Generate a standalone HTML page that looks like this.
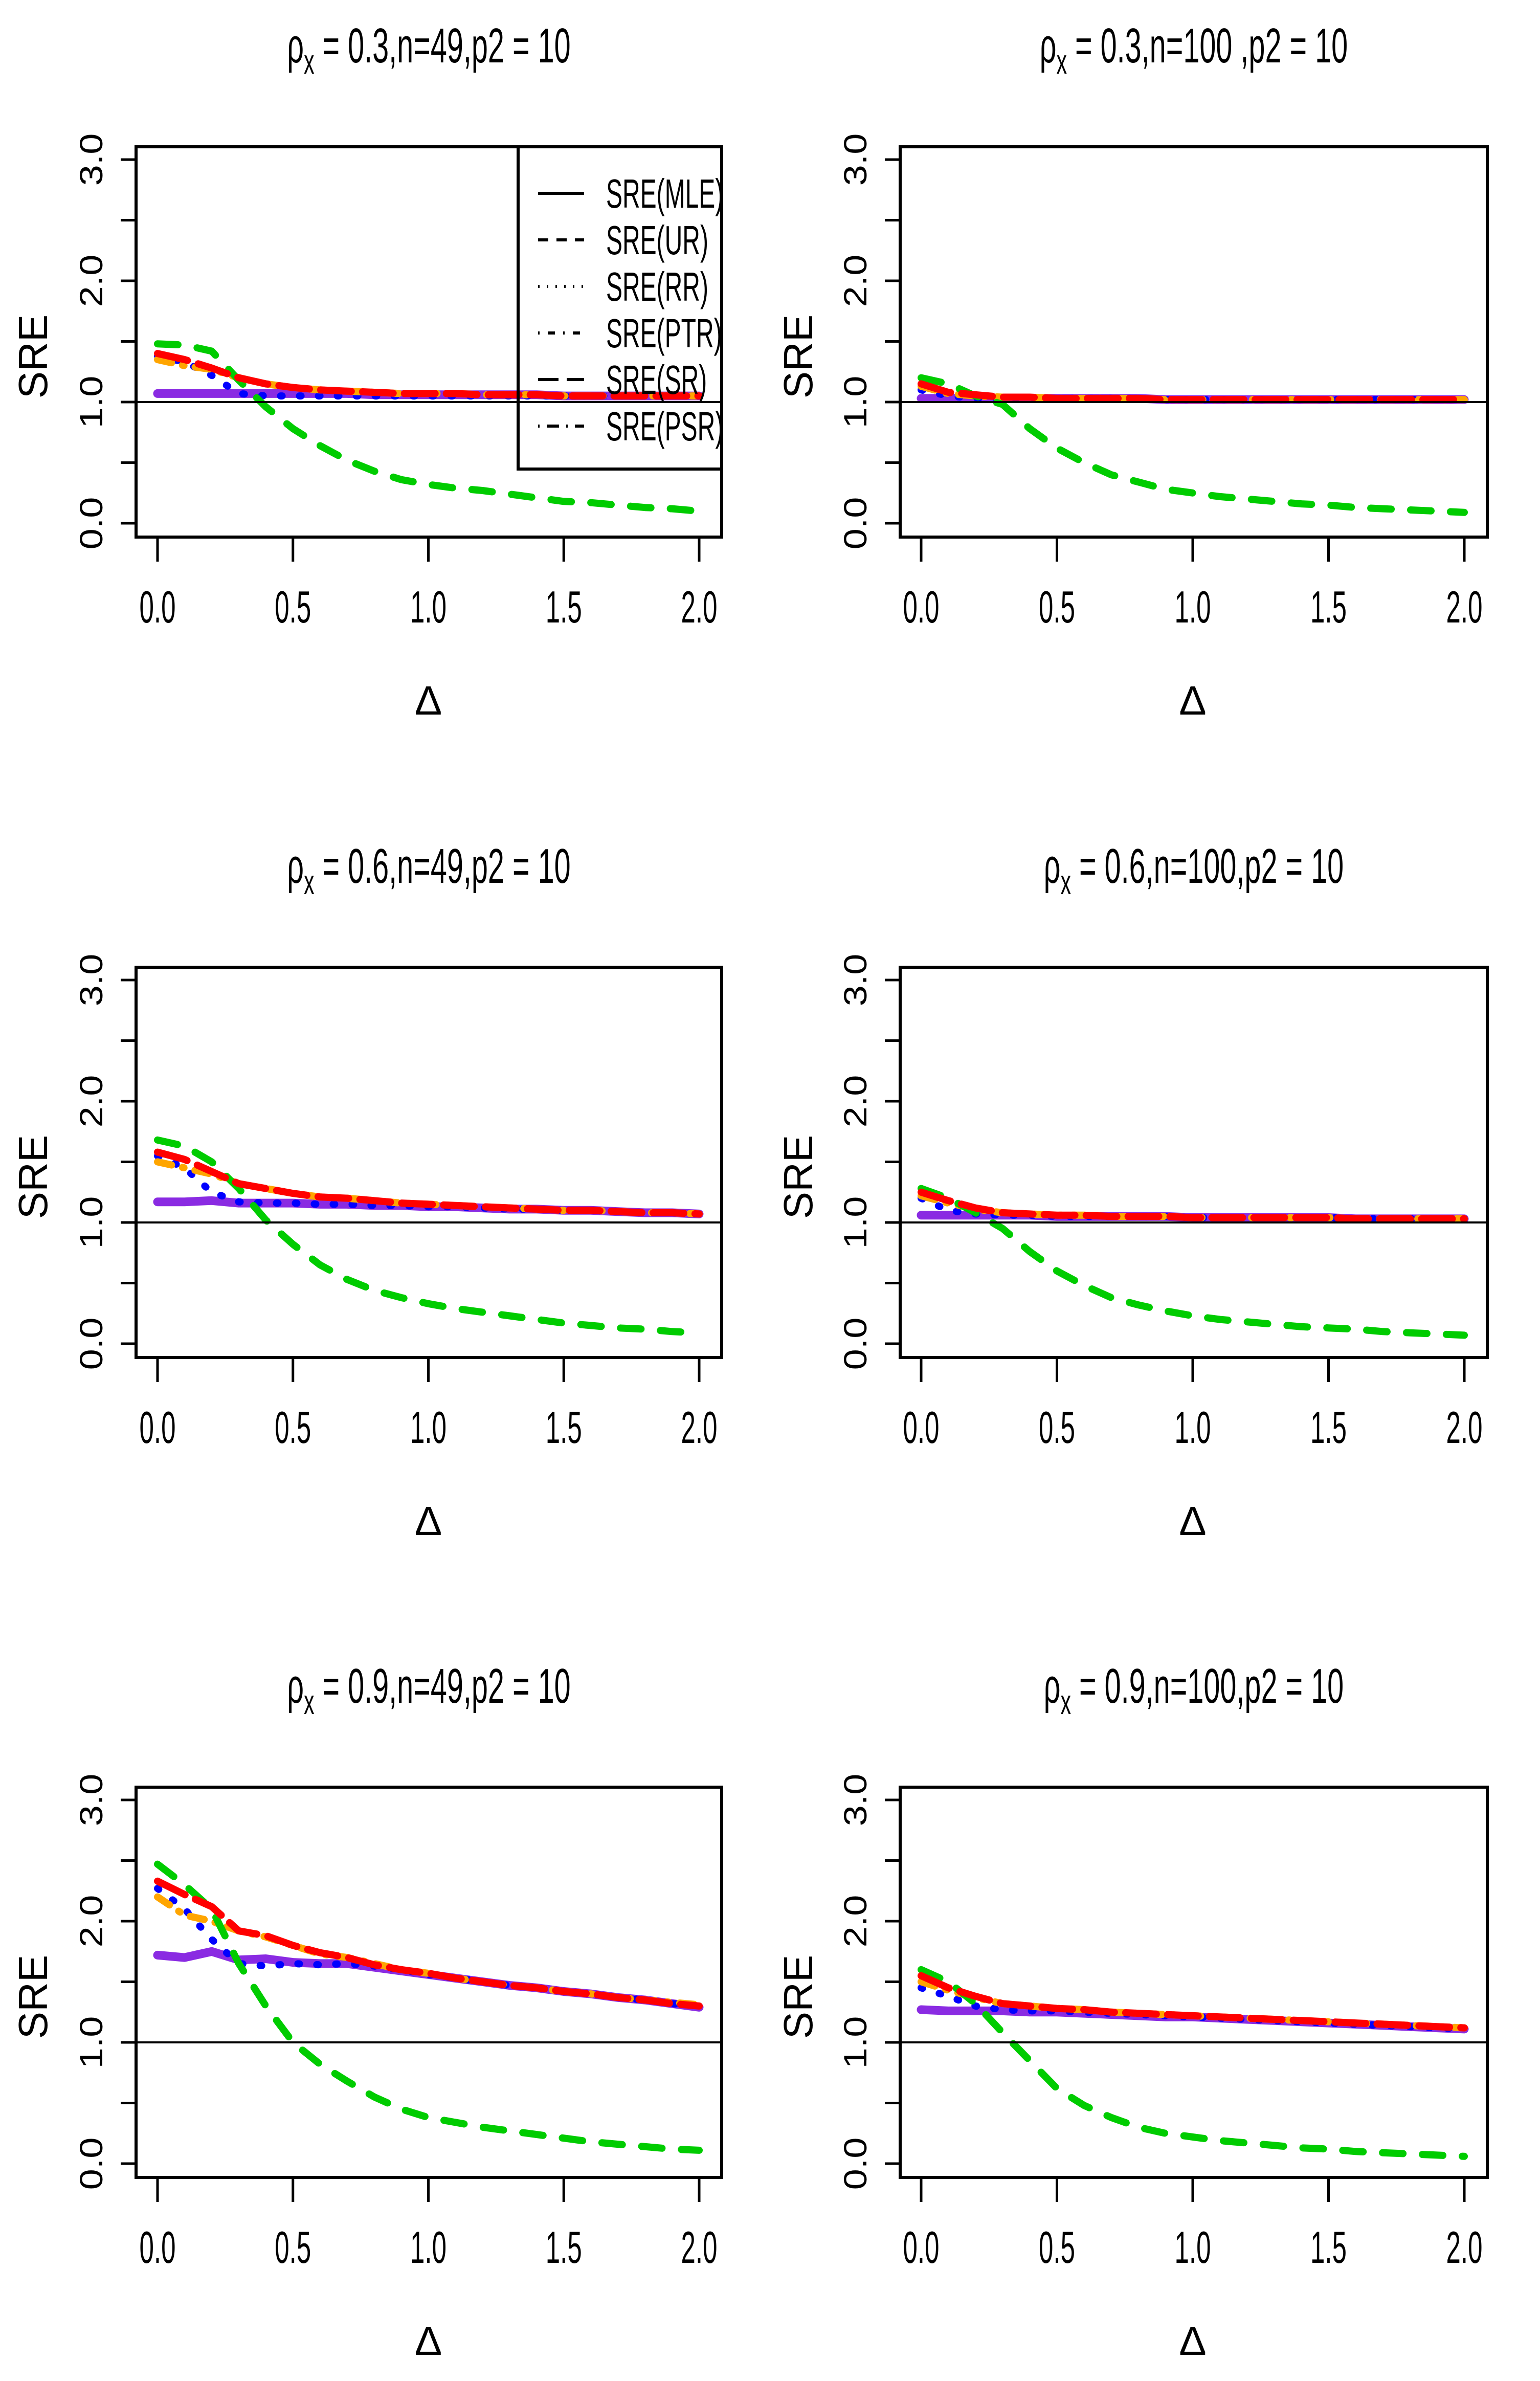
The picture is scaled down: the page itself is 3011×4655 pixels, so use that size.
<!DOCTYPE html>
<html><head><meta charset="utf-8"><style>
html,body{margin:0;padding:0;background:#fff;}
svg{display:block;}
text{font-family:"Liberation Sans",sans-serif;fill:#000;}
</style></head><body>
<svg id="chart" width="3011" height="4655" viewBox="0 0 3011 4655" xmlns="http://www.w3.org/2000/svg"></svg>
<script>
const deltas = [0,0.1,0.2,0.3,0.4,0.5,0.6,0.7,0.8,0.9,1.0,1.1,1.2,1.3,1.4,1.5,1.6,1.7,1.8,1.9,2.0];
const xTicks = [0,0.5,1.0,1.5,2.0];
const xTickLabels = ["0.0","0.5","1.0","1.5","2.0"];
const yTicks = [0,0.5,1,1.5,2,2.5,3];
const yTickLabels = ["0.0","","1.0","","2.0","","3.0"];
const panelRho = ["0.3","0.3","0.6","0.6","0.9","0.9"];
const panelN = ["49","100 ","49","100","49","100"];
const legendLabels = ["SRE(MLE)","SRE(UR)","SRE(RR)","SRE(PTR)","SRE(SR)","SRE(PSR)"];

const green1 = [1.48,1.47,1.42,1.18,0.96,0.78,0.64,0.52,0.43,0.36,0.32,0.29,0.27,0.24,0.21,0.18,0.17,0.15,0.13,0.12,0.10];
const red1 = [1.40,1.35,1.28,1.20,1.15,1.12,1.10,1.09,1.08,1.07,1.07,1.07,1.06,1.06,1.06,1.05,1.05,1.05,1.05,1.05,1.05];
const orange1 = [1.35,1.30,1.27,1.20,1.15,1.12,1.10,1.09,1.08,1.07,1.07,1.07,1.06,1.06,1.06,1.05,1.05,1.05,1.05,1.05,1.05];
const blue1 = [1.38,1.33,1.22,1.07,1.05,1.05,1.05,1.05,1.05,1.05,1.05,1.05,1.05,1.05,1.05,1.05,1.05,1.05,1.05,1.05,1.05];
const purple1 = [1.07,1.07,1.07,1.07,1.07,1.07,1.07,1.07,1.06,1.06,1.06,1.06,1.06,1.06,1.06,1.05,1.05,1.05,1.05,1.05,1.05];

const green2 = [1.20,1.15,1.05,0.98,0.78,0.62,0.50,0.40,0.34,0.28,0.25,0.22,0.20,0.18,0.16,0.15,0.13,0.12,0.11,0.10,0.09];
const red2 = [1.15,1.08,1.06,1.04,1.04,1.03,1.03,1.03,1.03,1.02,1.02,1.02,1.02,1.02,1.02,1.02,1.02,1.02,1.02,1.02,1.02];
const orange2 = [1.13,1.07,1.05,1.04,1.04,1.03,1.03,1.03,1.03,1.02,1.02,1.02,1.02,1.02,1.02,1.02,1.02,1.02,1.02,1.02,1.02];
const blue2 = [1.10,1.05,1.03,1.03,1.03,1.03,1.03,1.03,1.03,1.02,1.02,1.02,1.02,1.02,1.02,1.02,1.02,1.02,1.02,1.02,1.02];
const purple2 = [1.03,1.03,1.03,1.03,1.03,1.03,1.03,1.03,1.03,1.02,1.02,1.02,1.02,1.02,1.02,1.02,1.02,1.02,1.02,1.02,1.02];

const green3 = [1.68,1.63,1.50,1.28,1.02,0.82,0.65,0.53,0.44,0.38,0.33,0.29,0.26,0.23,0.20,0.17,0.15,0.13,0.12,0.10,0.09];
const red3 = [1.58,1.52,1.42,1.32,1.28,1.24,1.21,1.20,1.18,1.16,1.15,1.14,1.13,1.12,1.11,1.10,1.10,1.09,1.08,1.08,1.07];
const orange3 = [1.50,1.45,1.40,1.32,1.28,1.24,1.21,1.20,1.18,1.16,1.15,1.14,1.13,1.12,1.11,1.10,1.10,1.09,1.08,1.08,1.07];
const blue3 = [1.55,1.45,1.25,1.17,1.16,1.16,1.15,1.15,1.14,1.14,1.13,1.13,1.12,1.11,1.11,1.10,1.10,1.09,1.08,1.08,1.07];
const purple3 = [1.17,1.17,1.18,1.16,1.16,1.16,1.15,1.15,1.14,1.14,1.13,1.13,1.12,1.11,1.11,1.10,1.10,1.09,1.08,1.08,1.07];

const green4 = [1.28,1.20,1.08,0.95,0.76,0.60,0.48,0.38,0.32,0.27,0.23,0.20,0.18,0.16,0.14,0.13,0.12,0.10,0.09,0.08,0.07];
const red4 = [1.25,1.18,1.12,1.08,1.07,1.06,1.06,1.05,1.05,1.05,1.04,1.04,1.04,1.04,1.04,1.04,1.03,1.03,1.03,1.03,1.03];
const orange4 = [1.22,1.16,1.11,1.08,1.07,1.06,1.06,1.05,1.05,1.05,1.04,1.04,1.04,1.04,1.04,1.04,1.03,1.03,1.03,1.03,1.03];
const blue4 = [1.20,1.10,1.07,1.06,1.06,1.05,1.05,1.05,1.05,1.05,1.04,1.04,1.04,1.04,1.04,1.04,1.03,1.03,1.03,1.03,1.03];
const purple4 = [1.06,1.06,1.06,1.06,1.06,1.05,1.05,1.05,1.05,1.05,1.04,1.04,1.04,1.04,1.04,1.04,1.03,1.03,1.03,1.03,1.03];

const green5 = [2.47,2.30,2.10,1.65,1.30,1.00,0.82,0.68,0.55,0.45,0.38,0.34,0.30,0.27,0.24,0.21,0.18,0.16,0.14,0.12,0.11];
const red5 = [2.33,2.22,2.12,1.92,1.88,1.80,1.74,1.70,1.64,1.60,1.57,1.53,1.50,1.47,1.45,1.42,1.40,1.37,1.35,1.32,1.30];
const orange5 = [2.20,2.05,2.00,1.92,1.87,1.80,1.73,1.70,1.65,1.60,1.57,1.53,1.50,1.47,1.45,1.42,1.40,1.37,1.35,1.33,1.31];
const blue5 = [2.27,2.10,1.85,1.65,1.63,1.65,1.64,1.65,1.63,1.60,1.56,1.53,1.50,1.47,1.45,1.42,1.40,1.37,1.35,1.32,1.30];
const purple5 = [1.72,1.70,1.75,1.68,1.69,1.66,1.65,1.65,1.62,1.59,1.56,1.53,1.50,1.47,1.45,1.42,1.40,1.37,1.35,1.32,1.29];

const green6 = [1.60,1.50,1.32,1.08,0.85,0.62,0.48,0.38,0.30,0.25,0.22,0.19,0.17,0.15,0.13,0.12,0.10,0.09,0.08,0.07,0.06];
const red6 = [1.55,1.45,1.38,1.32,1.30,1.28,1.27,1.25,1.24,1.23,1.22,1.21,1.20,1.19,1.18,1.17,1.16,1.15,1.14,1.13,1.12];
const orange6 = [1.50,1.43,1.37,1.32,1.30,1.28,1.27,1.25,1.24,1.23,1.22,1.21,1.20,1.19,1.18,1.17,1.16,1.15,1.14,1.13,1.12];
const blue6 = [1.45,1.38,1.30,1.27,1.26,1.26,1.25,1.24,1.23,1.22,1.21,1.20,1.19,1.18,1.17,1.16,1.15,1.14,1.13,1.12,1.11];
const purple6 = [1.27,1.26,1.26,1.26,1.25,1.25,1.24,1.23,1.22,1.21,1.21,1.20,1.19,1.18,1.17,1.16,1.15,1.14,1.13,1.12,1.11];

const panelSeries = [
  [green1,blue1,orange1,red1,purple1],
  [green2,blue2,orange2,red2,purple2],
  [green3,blue3,orange3,red3,purple3],
  [green4,blue4,orange4,red4,purple4],
  [green5,blue5,orange5,red5,purple5],
  [green6,blue6,orange6,red6,purple6]
];
const seriesNames = ["sre-ur","sre-rr","sre-ptr","sre-sr","sre-psr"];
const seriesColors = ["#00cc00","#0000ff","#ffa500","#ff0000","#8a2be2"];
const seriesDash = ["40,38","3,34","28,22,3,22","60,22","none"];
const seriesOrder = [4,1,2,0,3];

const NS = "http://www.w3.org/2000/svg";
const svg = document.getElementById("chart");
function mk(tag, attrs, parent){
  const e = document.createElementNS(NS, tag);
  for (const k in attrs) e.setAttribute(k, attrs[k]);
  (parent||svg).appendChild(e);
  return e;
}

const colBox = [[266,1411],[1760,2908]];
const colX0 = [308,1801], colX2 = [1367,2863];
const rowTop = [287,1891,3494];
const boxH = 763, y3off = 25, y0off = 736;

for (let p=0;p<6;p++){
  const c = p%2, r = Math.floor(p/2);
  const g = mk("g",{});
  
  
  const top = rowTop[r];
  const xs = v => colX0[c] + (colX2[c]-colX0[c]) * v/2;
  const ys = v => top + y0off - (y0off-y3off) * v/3;
  const bx1 = colBox[c][0], bx2 = colBox[c][1];
  const cx = (bx1+bx2)/2;

  const t = mk("text",{x:cx, y:top-165, "text-anchor":"middle","font-size":96, transform:`translate(${cx},0) scale(0.6,1) translate(${-cx},0)`}, g);
  
  
  t.innerHTML = `ρ<tspan font-size="68" dy="22">x</tspan><tspan dy="-22"> = ${panelRho[p]},n=${panelN[p]},p2 = 10</tspan>`;

  const yl = mk("text",{x:0,y:0,"font-size":80,"text-anchor":"middle",transform:`translate(${c?1588:92},${top+410}) rotate(-90)`}, g);
  
  
  yl.textContent = "SRE";
  const xl = mk("text",{x:(colX0[c]+colX2[c])/2,y:top+1110,"font-size":80,"text-anchor":"middle","font-family":"Liberation Serif"}, g);
  
  
  xl.textContent = "Δ";

  yTicks.forEach((v,i)=>{
    const tk = mk("line",{x1:bx1-30,x2:bx1,y1:ys(v),y2:ys(v),stroke:"#000","stroke-width":5}, g);
    
    
    if (yTickLabels[i]){
      const tl = mk("text",{x:0,y:0,"font-size":74,"text-anchor":"middle",transform:`translate(${bx1-66},${ys(v)}) rotate(-90) scale(1,0.85)`}, g);
      
      
      tl.textContent = yTickLabels[i];
    }
  });
  xTicks.forEach((v,i)=>{
    const tk = mk("line",{x1:xs(v),x2:xs(v),y1:top+boxH,y2:top+boxH+48,stroke:"#000","stroke-width":5}, g);
    
    
    const tl = mk("text",{x:xs(v),y:top+930,"font-size":88,"text-anchor":"middle",transform:`translate(${xs(v)},0) scale(0.58,1) translate(${-xs(v)},0)`}, g);
    
    
    tl.textContent = xTickLabels[i];
  });

  seriesOrder.forEach(s=>{
    const d = panelSeries[p][s].map((v,i)=>(i?"L":"M")+xs(deltas[i]).toFixed(1)+","+ys(v).toFixed(1)).join(" ");
    const attrs = {d:d,fill:"none",stroke:seriesColors[s],"stroke-width":s===4?17:14,"stroke-linecap":"round","stroke-linejoin":"round"};
    if (seriesDash[s]!=="none") attrs["stroke-dasharray"]=seriesDash[s];
    const path = mk("path",attrs,g);
    
    
  });

  const ref = mk("line",{x1:bx1,x2:bx2,y1:ys(1),y2:ys(1),stroke:"#000","stroke-width":4}, g);
  
  

  const box = mk("rect",{x:bx1,y:top,width:bx2-bx1,height:boxH,fill:"none",stroke:"#000","stroke-width":6}, g);
  
  

  if (p===0){
    const lg = mk("g",{},g);
    
    
    const lb = mk("rect",{x:1013,y:top,width:bx2-1013,height:917-top,fill:"none",stroke:"#000","stroke-width":6},lg);
    
    
    const ldash = ["none","20,16","3,14","3,16,14,16","40,16","3,14,24,14"];
    legendLabels.forEach((lab,i)=>{
      const yy = 378 + i*91;
      const la = {x1:1052,x2:1142,y1:yy,y2:yy,stroke:"#000","stroke-width":6};
      if (ldash[i]!=="none") la["stroke-dasharray"]=ldash[i];
      const ln = mk("line",la,lg);
      
      
      const tx = mk("text",{x:1185,y:yy+28,"font-size":80,transform:`translate(1185,0) scale(0.6,1) translate(-1185,0)`},lg);
      
      
      tx.textContent = lab;
    });
  }
}
</script>
</body></html>
